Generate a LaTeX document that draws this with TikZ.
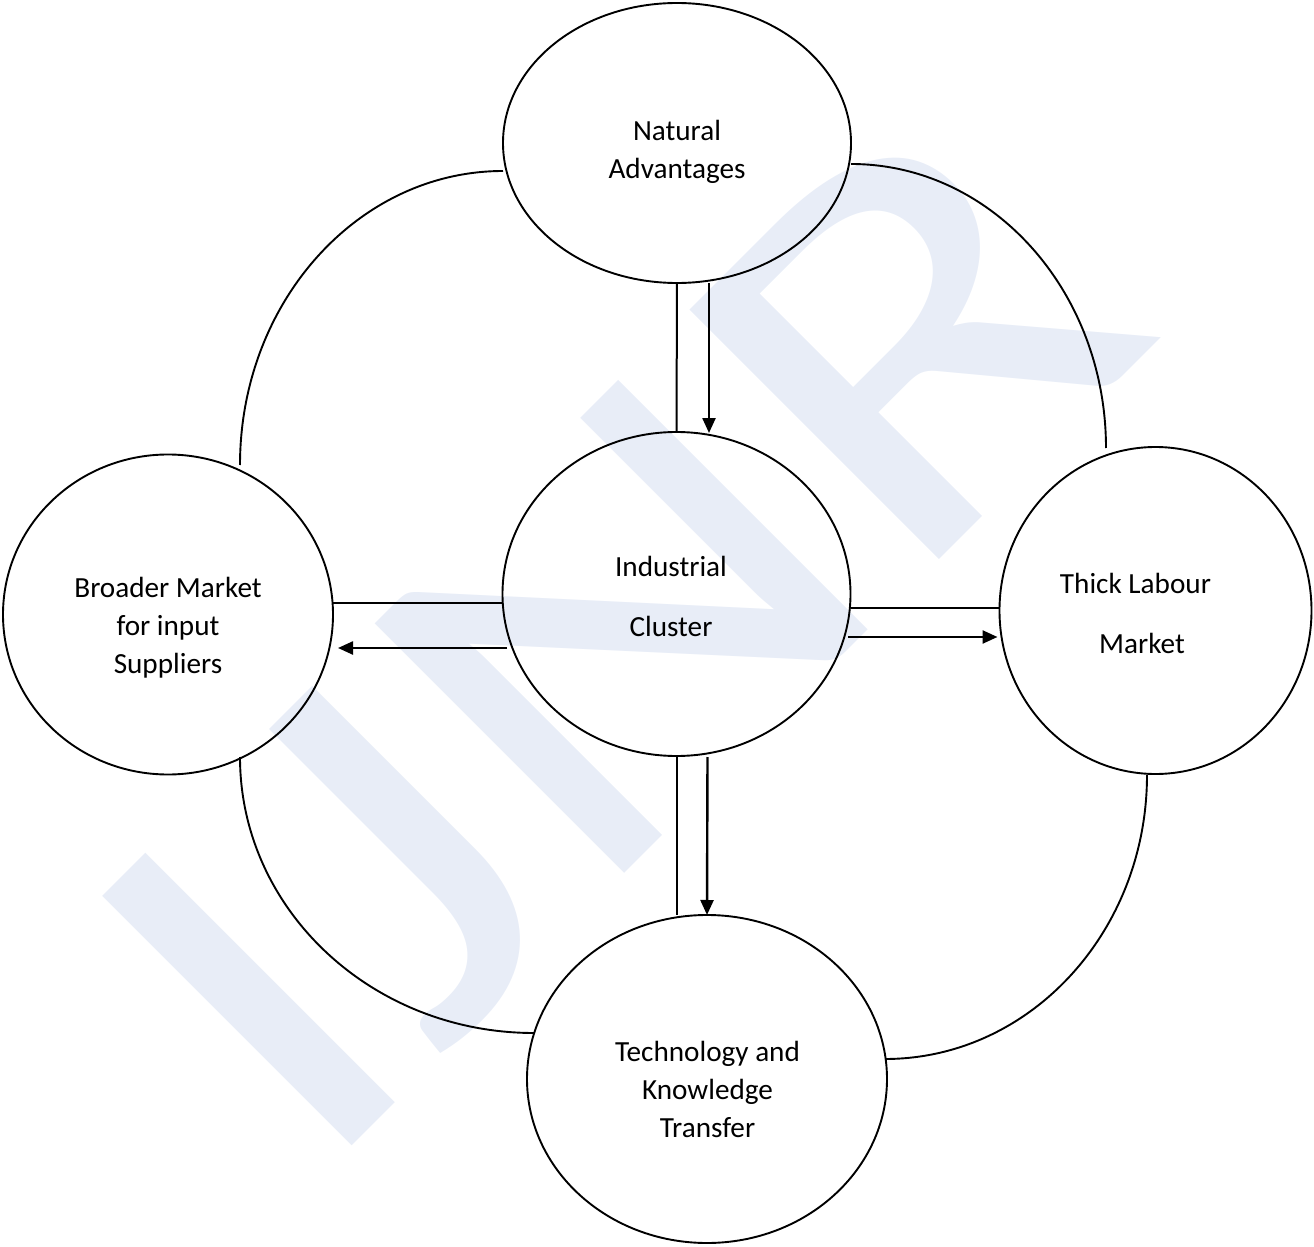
\documentclass[tikz,border=0pt]{standalone}
\usepackage{fontspec}
\setmainfont{Carlito}
\usetikzlibrary{arrows.meta,calc,shapes.geometric}
\definecolor{wm}{RGB}{232,237,247}
\begin{document}
\begin{tikzpicture}[x=0.5pt,y=-0.5pt,
  bub/.style={ellipse,draw,line width=0.95pt,inner sep=0pt,outer sep=0pt},
  lbl/.style={align=center,font=\fontsize{14.6}{19}\selectfont,inner sep=0pt},
  link/.style={line width=1pt},
  flow/.style={line width=1.2pt,-{Triangle[length=7.5pt,width=6.5pt]}},
  ring/.style={line width=0.95pt}]
\useasboundingbox (0,0) rectangle (1314,1247);
% watermark
\node[rotate=45,xscale=1.25,anchor=base,text=wm,font=\fontsize{275}{275}\selectfont,inner sep=0pt] (wmark) at (740,758) {IJNR};
% bubbles
\node[bub,minimum width=174pt,minimum height=140pt] (nat) at (677,143) {};
\node[bub,minimum width=174pt,minimum height=162pt] (ind) at (676.5,594) {};
\node[bub,minimum width=165pt,minimum height=160pt] (brd) at (168,614.5) {};
\node[bub,minimum width=156pt,minimum height=163.5pt] (thk) at (1155.5,610.5) {};
\node[bub,minimum width=180pt,minimum height=164pt] (tec) at (707,1079) {};
% labels
\node[lbl] (natT) at (677,152) {Natural\\Advantages};
\node[lbl] (indT) at (671,596) {Industrial\\[11pt]Cluster};
\node[lbl] (brdT) at (168,628) {Broader Market\\for input\\Suppliers};
\node[lbl] (thkT) at (1135.5,613) {Thick Labour\\[11pt]\hspace{6.5pt}Market};
\node[lbl] (tecT) at (707.5,1089) {Technology and\\Knowledge\\Transfer};
% straight links
\draw[link] (nat.south) -- (ind.north);
\draw[flow] ($(nat.south)+(32,0)$) -- ($(ind.north)+(32.5,1)$);
\draw[link] (brd.east |- 0,603) -- (ind.west |- 0,603);
\draw[flow] ($(ind.west)+(4.5,54)$) -- ($(brd.east)+(5,33.5)$);
\draw[link] (ind.east |- 0,608) -- (thk.west |- 0,608);
\draw[flow] ($(ind.east)+(-2.5,43)$) -- ($(thk.west)+(-2,26.5)$);
\draw[link] (ind.south) -- (ind.south |- tec.north);
\draw[flow] ($(ind.south)+(31,1)$) -- (tec.north);
% outer ring arcs
\draw[ring] ($(nat.west)+(0,28)$) arc[start angle=270,end angle=180,x radius=263,y radius=294];
\draw[ring] ($(nat.east)+(0,21)$) arc[start angle=270,end angle=360,x radius=255,y radius=284];
\draw[ring] ($(brd.south)+(72,-17.5)$) arc[start angle=180,end angle=90,x radius=294,y radius=276];
\draw[ring] ($(thk.south)+(-8.5,1)$) arc[start angle=0,end angle=90,x radius=262,y radius=284];
\end{tikzpicture}
\end{document}
